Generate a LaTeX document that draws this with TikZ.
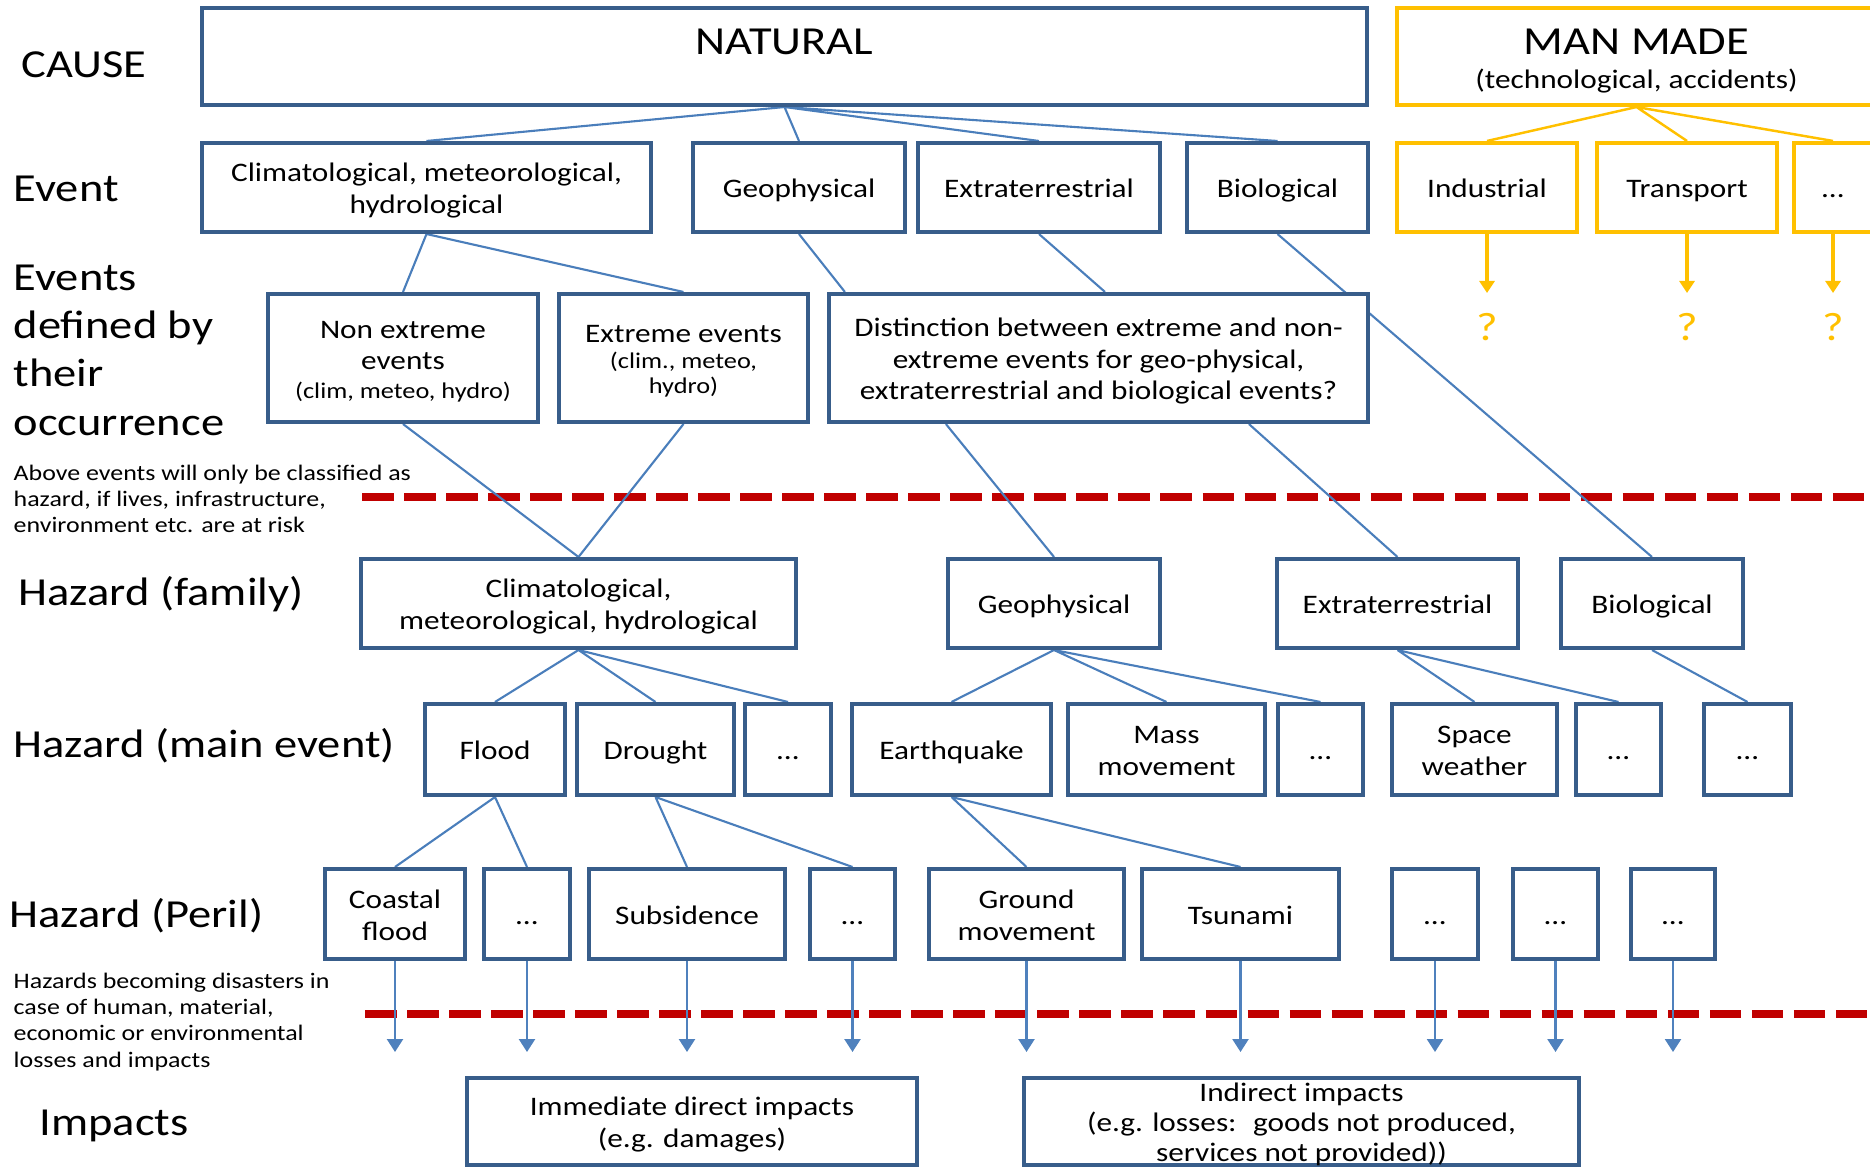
\documentclass[tikz,border=0pt]{standalone}
\usepackage{fontspec}
\setmainfont{Carlito}[FakeStretch=1.17]
\usetikzlibrary{calc, arrows.meta}

\definecolor{boxblue}{HTML}{385D8A}
\definecolor{linkblue}{HTML}{4A7EBB}
\definecolor{arrowblue}{HTML}{4F81BD}
\definecolor{mangold}{HTML}{FFC000}
\definecolor{riskred}{HTML}{C00000}

\pgfdeclarelayer{background}
\pgfsetlayers{background,main}

\newcommand{\bigtxt}{\fontsize{11.3}{13.75}\selectfont}
\newcommand{\boxtxt}{\fontsize{7.6}{9}\selectfont}
\newcommand{\smalltxt}{\fontsize{6.4}{7.3}\selectfont}
\newcommand{\notetxt}{\fontsize{6.3}{7.5}\selectfont}
\newcommand{\toprule}{\rule{0pt}{7.7pt}}
\newcommand{\botrule}{\rule[-1.9pt]{0pt}{0pt}}

\tikzset{
	bluebox/.style = {draw=boxblue, line width=1.15pt, fill=white, inner sep=0pt, align=center, font=\boxtxt},
	goldbox/.style = {bluebox, draw=mangold},
	linkline/.style = {draw=linkblue, line width=0.6pt},
	goldline/.style = {draw=mangold, line width=0.7pt},
	impactarrow/.style = {draw=arrowblue, line width=0.7pt, -{Triangle[width=0.16cm, length=0.13cm]}},
	goldarrow/.style = {draw=mangold, line width=0.9pt, -{Triangle[width=0.15cm, length=0.12cm]}},
	rowlabel/.style = {inner sep=0pt, anchor=base west, font=\bigtxt},
	notetext/.style = {inner sep=0pt, anchor=north west, align=left, font=\notetxt},
	riskline/.style = {draw=riskred, line width=2.1pt, dash pattern=on 0.315cm off 0.105cm},
}

% [style]{name}{x1}{y1}{x2}{y2}{text}
\newcommand{\hzbox}[7][bluebox]{%
	\node[#1, minimum width={(#5-#3)*0.01cm}, minimum height={(#6-#4)*0.01cm}] (#2) at ({(#3+#5)/2},{(#4+#6)/2}) {\toprule#7\botrule};}

\begin{document}
\begin{tikzpicture}[x=0.01cm, y=-0.01cm]
	\useasboundingbox (0,0) rectangle (1870,1167);

	\begin{scope}
		\node[rowlabel] (lcause) at (21,78) {CAUSE};
		\node[rowlabel] (levent) at (13,202) {Event};
		\node[rowlabel, anchor=north west, align=left] (loccur) at (13,264) {Events\\defined by\\their\\occurrence};
		\node[notetext] (lrisk) at (13,464) {Above events will only be classified as\\hazard, if lives, infrastructure,\\environment etc. are at risk};
		\node[rowlabel] (lfamily) at (18,605) {Hazard (family)};
		\node[rowlabel] (lmain) at (13,757) {Hazard (main event)};
		\node[rowlabel] (lperil) at (9,927) {Hazard (Peril)};
		\node[notetext] (lloss) at (13,972) {Hazards becoming disasters in\\case of human, material,\\economic or environmental\\losses and impacts};
		\node[rowlabel] (limpacts) at (39,1135) {Impacts};
	\end{scope}

	\begin{scope}
		\hzbox{natural}{202}{8}{1367}{105}{\rule{0pt}{10.5pt}{\bigtxt NATURAL}\\[0.6pt]\phantom{(technological, accidents)}}
		\hzbox[goldbox]{manmade}{1397}{8}{1876}{105}{\rule{0pt}{10.5pt}{\bigtxt MAN MADE}\\[0.6pt](technological, accidents)}

		\hzbox{clim}{202}{143}{651}{232}{Climatological, meteorological,\\hydrological}
		\hzbox{geo}{693}{143}{905}{232}{Geophysical}
		\hzbox{extra}{918}{143}{1160}{232}{Extraterrestrial}
		\hzbox{bio}{1187}{143}{1368}{232}{Biological}
		\hzbox[goldbox]{indus}{1397}{143}{1577}{232}{Industrial}
		\hzbox[goldbox]{transp}{1597}{143}{1777}{232}{Transport}
		\hzbox[goldbox]{mdots}{1794}{143}{1872}{232}{…}

		\hzbox{nonext}{268}{294}{538}{422}{Non extreme\\events\\[-1pt]\smalltxt (clim, meteo, hydro)}
		\hzbox{ext}{559}{294}{808}{422}{Extreme events\\[-1.6pt]\smalltxt (clim., meteo,\\[-1.9pt]\smalltxt hydro)}
		\hzbox{dist}{829}{294}{1368}{422}{Distinction between extreme and non-\\extreme events for geo-physical,\\extraterrestrial and biological events?}

		\hzbox{hclim}{361}{559}{796}{648}{Climatological,\\meteorological, hydrological}
		\hzbox{hgeo}{948}{559}{1160}{648}{Geophysical}
		\hzbox{hextra}{1277}{559}{1518}{648}{Extraterrestrial}
		\hzbox{hbio}{1561}{559}{1743}{648}{Biological}

		\hzbox{flood}{425}{704}{565}{795}{Flood}
		\hzbox{drought}{577}{704}{734}{795}{Drought}
		\hzbox{cdots}{745}{704}{831}{795}{…}
		\hzbox{quake}{852}{704}{1051}{795}{Earthquake}
		\hzbox{mass}{1068}{704}{1265}{795}{Mass\\movement}
		\hzbox{gdots}{1278}{704}{1363}{795}{…}
		\hzbox{space}{1392}{704}{1557}{795}{Space\\weather}
		\hzbox{xdots}{1576}{704}{1661}{795}{…}
		\hzbox{bdots}{1704}{704}{1791}{795}{…}

		\hzbox{coast}{325}{869}{465}{959}{Coastal\\flood}
		\hzbox{fdots}{484}{869}{570}{959}{…}
		\hzbox{subs}{589}{869}{785}{959}{Subsidence}
		\hzbox{ddots}{810}{869}{895}{959}{…}
		\hzbox{ground}{929}{869}{1124}{959}{Ground\\movement}
		\hzbox{tsunami}{1142}{869}{1339}{959}{Tsunami}
		\hzbox{pdotsa}{1392}{869}{1478}{959}{…}
		\hzbox{pdotsb}{1513}{869}{1598}{959}{…}
		\hzbox{pdotsc}{1631}{869}{1715}{959}{…}

		\hzbox{direct}{467}{1078}{917}{1165}{Immediate direct impacts\\(e.g. damages)}
		\hzbox[bluebox, inner ysep=-4pt]{indirect}{1024}{1078}{1579}{1165}{Indirect impacts\\[-0.5pt](e.g. losses:~ goods not produced,\\[-0.5pt]services not provided))}
	\end{scope}

	\coordinate (goldtip) at (0,293);
	\coordinate (qrow) at (0,327);
	\coordinate (bluetip) at (0,1052);

	\begin{scope}[text=mangold, font=\bigtxt]
		\node (qindus) at (indus.south |- qrow) {?};
		\node (qtransp) at (transp.south |- qrow) {?};
		\node (qmdots) at (mdots.south |- qrow) {?};
	\end{scope}

	\begin{pgfonlayer}{background}
		\draw[riskline] (362,497) -- (1870,497);
		\draw[riskline] (365,1014) -- (1870,1014);

		\draw[linkline] (natural.south) -- (clim.north) (natural.south) -- (geo.north)
			(natural.south) -- (extra.north) (natural.south) -- (bio.north);
		\draw[goldline] (manmade.south) -- (indus.north) (manmade.south) -- (transp.north)
			(manmade.south) -- (mdots.north);

		\draw[linkline] (clim.south) -- (nonext.north) (clim.south) -- (ext.north);
		\draw[linkline] (geo.south) -- ($(dist.north west)!0.033!(dist.north east)$);
		\draw[linkline] (extra.south) -- ($(dist.north west)!0.512!(dist.north east)$);
		\draw[linkline] (bio.south) -- (hbio.north);

		\draw[linkline] (nonext.south) -- (hclim.north) (ext.south) -- (hclim.north);
		\draw[linkline] ($(dist.south west)!0.219!(dist.south east)$) -- (hgeo.north);
		\draw[linkline] ($(dist.south west)!0.777!(dist.south east)$) -- (hextra.north);

		\draw[linkline] (hclim.south) -- (flood.north) (hclim.south) -- (drought.north)
			(hclim.south) -- (cdots.north);
		\draw[linkline] (hgeo.south) -- (quake.north) (hgeo.south) -- (mass.north)
			(hgeo.south) -- (gdots.north);
		\draw[linkline] (hextra.south) -- (space.north) (hextra.south) -- (xdots.north);
		\draw[linkline] (hbio.south) -- (bdots.north);

		\draw[linkline] (flood.south) -- (coast.north) (flood.south) -- (fdots.north);
		\draw[linkline] (drought.south) -- (subs.north) (drought.south) -- (ddots.north);
		\draw[linkline] (quake.south) -- (ground.north) (quake.south) -- (tsunami.north);
	\end{pgfonlayer}

	\begin{scope}
		\draw[goldarrow] (indus.south) -- (indus.south |- goldtip);
		\draw[goldarrow] (transp.south) -- (transp.south |- goldtip);
		\draw[goldarrow] (mdots.south) -- (mdots.south |- goldtip);

		\draw[impactarrow] (coast.south) -- (coast.south |- bluetip);
		\draw[impactarrow] (fdots.south) -- (fdots.south |- bluetip);
		\draw[impactarrow] (subs.south) -- (subs.south |- bluetip);
		\draw[impactarrow] (ddots.south) -- (ddots.south |- bluetip);
		\draw[impactarrow] (ground.south) -- (ground.south |- bluetip);
		\draw[impactarrow] (tsunami.south) -- (tsunami.south |- bluetip);
		\draw[impactarrow] (pdotsa.south) -- (pdotsa.south |- bluetip);
		\draw[impactarrow] (pdotsb.south) -- (pdotsb.south |- bluetip);
		\draw[impactarrow] (pdotsc.south) -- (pdotsc.south |- bluetip);
	\end{scope}
\end{tikzpicture}
\end{document}
